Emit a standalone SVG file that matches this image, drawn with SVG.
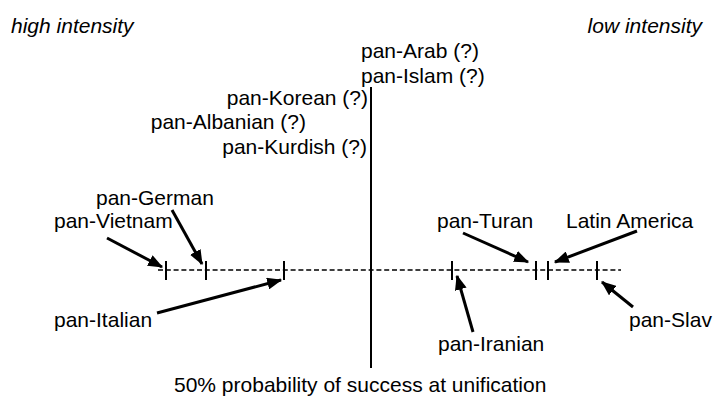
<svg xmlns="http://www.w3.org/2000/svg" width="714" height="400" viewBox="0 0 714 400">
<defs>
<style>
text{font-family:"Liberation Sans",Arial,sans-serif;font-size:21px;fill:#000}
.it{font-style:italic}
.arr{stroke:#000;stroke-width:3;fill:none;marker-end:url(#ah)}
.tick{stroke:#000;stroke-width:2}
</style>
<marker id="ah" markerWidth="5" markerHeight="4" refX="4.6" refY="2" orient="auto" markerUnits="strokeWidth">
<path d="M0,0 L5,2 L0,4 Z" fill="#000"/>
</marker>
</defs>
<rect width="714" height="400" fill="#fff"/>
<g id="axes">
<line x1="371" y1="87" x2="371" y2="368" stroke="#000" stroke-width="2"/>
<line x1="158" y1="270" x2="621" y2="270" stroke="#000" stroke-width="1.5" stroke-dasharray="5,2.8"/>
<line class="tick" x1="166" y1="261" x2="166" y2="280"/>
<line class="tick" x1="206" y1="261" x2="206" y2="280"/>
<line class="tick" x1="284" y1="261" x2="284" y2="280"/>
<line class="tick" x1="452" y1="261" x2="452" y2="280"/>
<line class="tick" x1="536" y1="261" x2="536" y2="280"/>
<line class="tick" x1="548" y1="261" x2="548" y2="280"/>
<line class="tick" x1="597" y1="261" x2="597" y2="280"/>
</g>
<g id="labels">
<text class="it" x="11" y="33">high intensity</text>
<text class="it" x="702" y="33" text-anchor="end">low intensity</text>
<text x="361" y="58">pan-Arab (?)</text>
<text x="361" y="83">pan-Islam (?)</text>
<text x="368" y="105" text-anchor="end">pan-Korean (?)</text>
<text x="306" y="129" text-anchor="end">pan-Albanian (?)</text>
<text x="367" y="154" text-anchor="end">pan-Kurdish (?)</text>
<text x="174" y="392">50% probability of success at unification</text>
</g>
<g id="node-vietnam"><text x="54" y="228">pan-Vietnam</text></g>
<g id="node-german"><text x="96" y="205">pan-German</text></g>
<g id="node-italian"><text x="54" y="327">pan-Italian</text></g>
<g id="node-iranian"><text x="438" y="351">pan-Iranian</text></g>
<g id="node-turan"><text x="437" y="228">pan-Turan</text></g>
<g id="node-latin"><text x="566" y="228">Latin America</text></g>
<g id="node-slav"><text x="629" y="327">pan-Slav</text></g>
<g id="connectors">
<line class="arr" x1="107" y1="238" x2="162" y2="267"/>
<line class="arr" x1="172" y1="210" x2="202" y2="264"/>
<line class="arr" x1="157" y1="313" x2="281" y2="280"/>
<line class="arr" x1="473" y1="332" x2="457" y2="276"/>
<line class="arr" x1="463" y1="233" x2="528" y2="262"/>
<line class="arr" x1="637" y1="231" x2="555" y2="262"/>
<line class="arr" x1="633" y1="307" x2="602" y2="282"/>
</g>
</svg>
